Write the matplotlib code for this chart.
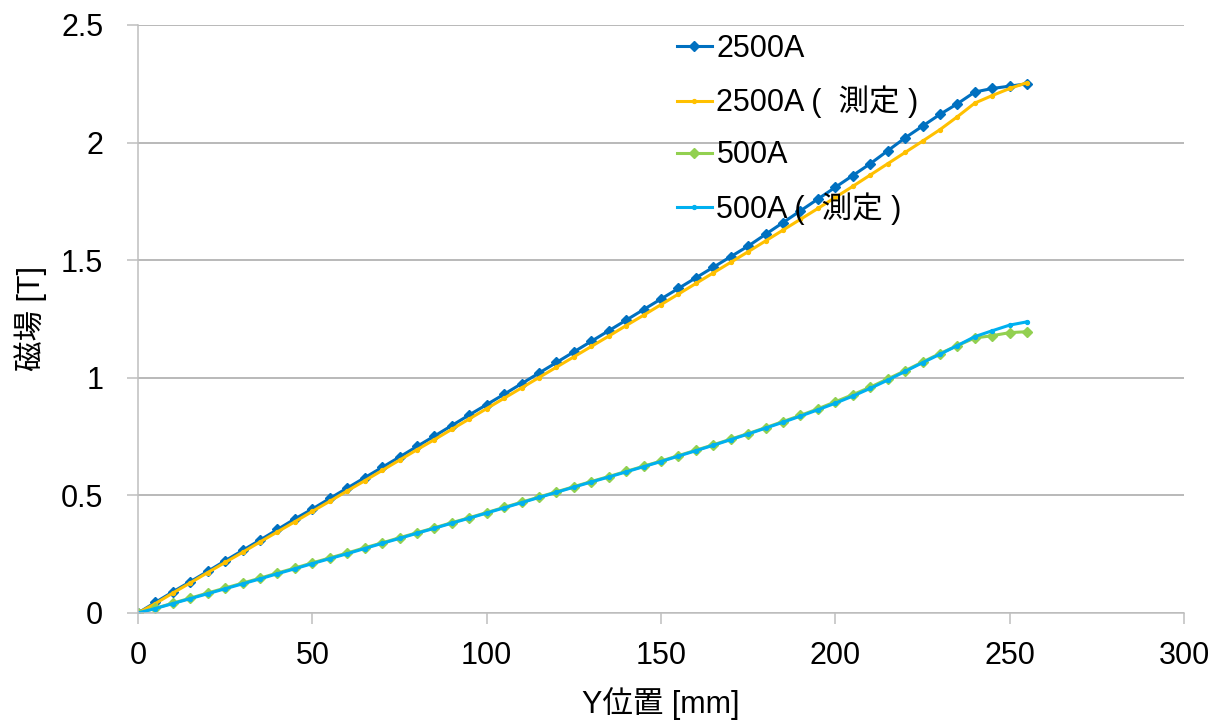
import numpy as np
import matplotlib
matplotlib.use("Agg")
import matplotlib.pyplot as plt

plt.rcParams['font.family'] = ['Liberation Sans', 'Noto Sans CJK JP', 'DejaVu Sans']

# Y position [mm], every 5 mm
pos = np.arange(0, 256, 5)

# 2500A (calculation)
b2500 = [0.0, 0.045, 0.09, 0.133, 0.177, 0.222, 0.266, 0.31, 0.355, 0.40,
         0.442, 0.487, 0.531, 0.575, 0.619, 0.663, 0.708, 0.752, 0.797, 0.842,
         0.886, 0.93, 0.975, 1.02, 1.065, 1.11, 1.155, 1.20, 1.245, 1.29,
         1.335, 1.38, 1.425, 1.47, 1.515, 1.56, 1.61, 1.66, 1.71, 1.76,
         1.81, 1.86, 1.91, 1.965, 2.02, 2.07, 2.12, 2.165, 2.215, 2.23,
         2.24, 2.25]

# 2500A (measured)
b2500_meas = [0.0, 0.04, 0.085, 0.128, 0.172, 0.215, 0.258, 0.302, 0.345, 0.388,
              0.432, 0.475, 0.519, 0.562, 0.606, 0.65, 0.694, 0.737, 0.781, 0.825,
              0.869, 0.913, 0.957, 1.001, 1.045, 1.089, 1.133, 1.177, 1.222, 1.266,
              1.311, 1.356, 1.401, 1.446, 1.491, 1.536, 1.582, 1.628, 1.674, 1.72,
              1.767, 1.814, 1.862, 1.91, 1.958, 2.006, 2.055, 2.11, 2.168, 2.2,
              2.23, 2.255]

# 500A (calculation)
b500 = [0.0, 0.02, 0.042, 0.063, 0.085, 0.106, 0.127, 0.148, 0.17, 0.191,
        0.213, 0.234, 0.255, 0.277, 0.298, 0.32, 0.341, 0.362, 0.384, 0.405,
        0.427, 0.449, 0.471, 0.493, 0.515, 0.537, 0.559, 0.58, 0.602, 0.624,
        0.646, 0.669, 0.692, 0.715, 0.739, 0.763, 0.788, 0.814, 0.84, 0.868,
        0.898, 0.928, 0.96, 0.995, 1.03, 1.067, 1.103, 1.137, 1.169, 1.179,
        1.192, 1.196]

# 500A (measured)
b500_meas = [0.0, 0.019, 0.04, 0.061, 0.082, 0.103, 0.124, 0.145, 0.167, 0.188,
             0.21, 0.231, 0.252, 0.274, 0.296, 0.317, 0.339, 0.36, 0.382, 0.403,
             0.425, 0.447, 0.469, 0.491, 0.513, 0.535, 0.557, 0.578, 0.6, 0.622,
             0.644, 0.667, 0.69, 0.713, 0.737, 0.761, 0.786, 0.811, 0.837, 0.864,
             0.892, 0.922, 0.955, 0.99, 1.027, 1.064, 1.1, 1.137, 1.175, 1.2,
             1.224, 1.238]

labels = ['2500A', '2500A (  測定 )', '500A', '500A (  測定 )']

fig = plt.figure(figsize=(12.16, 7.22), dpi=100)
ax = fig.add_axes([0.1135, 0.151, 0.9737 - 0.1135, 0.9654 - 0.151])

ax.plot(pos, b2500, color='#0070C0', lw=2.2, marker='D', ms=5.5, label=labels[0])
ax.plot(pos, b2500_meas, color='#FFC000', lw=2.2, marker='o', ms=2.8, label=labels[1])
ax.plot(pos, b500, color='#92D050', lw=2.2, marker='D', ms=5.5, label=labels[2])
ax.plot(pos, b500_meas, color='#00B0F0', lw=2.2, marker='o', ms=2.8, label=labels[3])

ax.set_xlim(0, 300)
ax.set_ylim(0, 2.5)
ax.set_xticks(np.arange(0, 301, 50))
ax.set_yticks([0, 0.5, 1, 1.5, 2, 2.5])
ax.set_yticklabels(['0', '0.5', '1', '1.5', '2', '2.5'])

ax.grid(axis='y', color='#A6A6A6', lw=1.1)
ax.set_axisbelow(True)
for s in ['top', 'right']:
    ax.spines[s].set_visible(False)
for s in ['left', 'bottom']:
    ax.spines[s].set_color('#BFBFBF')
    ax.spines[s].set_linewidth(1.1)
ax.tick_params(axis='both', direction='out', length=8, width=1.1,
               color='#BFBFBF', labelsize=22)
ax.tick_params(axis='x', pad=12)
ax.tick_params(axis='y', pad=17)

ax.set_xlabel('Y位置 [mm]', fontsize=22, labelpad=12)
ax.set_ylabel('磁場 [T]', fontsize=22, labelpad=10)

ax.legend(loc='upper left', bbox_to_anchor=(0.515, 0.985), frameon=False,
          fontsize=22, handlelength=1.15, handletextpad=0.15, labelspacing=0.72,
          borderpad=0, borderaxespad=0)

fig.savefig('out.png', dpi=100)
